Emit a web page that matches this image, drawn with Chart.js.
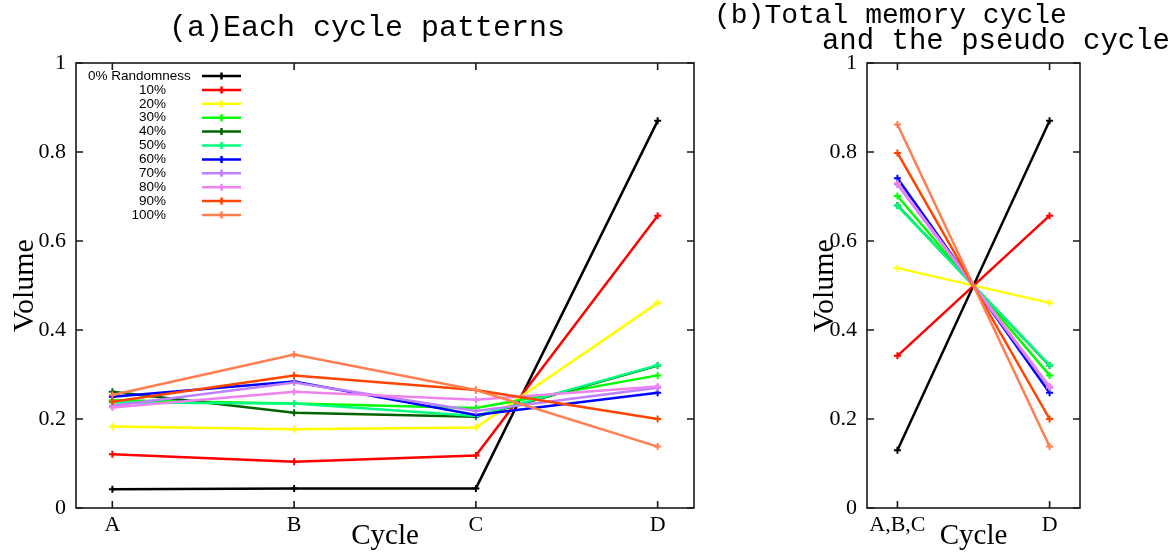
<!DOCTYPE html>
<html>
<head>
<meta charset="utf-8">
<script src="https://cdn.jsdelivr.net/npm/chart.js@4.4.1/dist/chart.umd.min.js"></script>
<style>
  body { margin: 0; background: #fff; }
  #wrap { position: relative; width: 1171px; height: 554px; overflow: hidden; }
  canvas { position: absolute; top: 0; }
  #cycA { left: 0; }
  #cycB { left: 700px; }
</style>
</head>
<body>
<div id="wrap">
  <canvas id="cycA" width="700" height="554"></canvas>
  <canvas id="cycB" width="471" height="554"></canvas>
</div>
<script>
// categories / tick labels
const cycles = ['A', 'B', 'C', 'D'];
const cyclesTotal = ['A,B,C', 'D'];
const yTicks = [0, 0.2, 0.4, 0.6, 0.8, 1];
const seriesNames = ['0% Randomness', '10%', '20%', '30%', '40%', '50%', '60%', '70%', '80%', '90%', '100%'];
const seriesColors = ['#000000', '#ff0000', '#ffff00', '#00ff00', '#006400', '#00ff7f',
                      '#0000ff', '#bf80ff', '#ee82ee', '#ff4500', '#ff7f50'];

// (a) volume of each cycle: A, B, C, D
const r0   = [0.042, 0.044, 0.044, 0.870];
const r10  = [0.121, 0.104, 0.118, 0.657];
const r20  = [0.183, 0.177, 0.181, 0.461];
const r30  = [0.242, 0.235, 0.225, 0.298];
const r40  = [0.261, 0.214, 0.205, 0.320];
const r50  = [0.237, 0.235, 0.207, 0.321];
const r60  = [0.250, 0.284, 0.209, 0.259];
const r70  = [0.230, 0.282, 0.218, 0.270];
const r80  = [0.226, 0.261, 0.243, 0.273];
const r90  = [0.239, 0.298, 0.265, 0.200];
const r100 = [0.254, 0.345, 0.265, 0.138];

// (b) total memory cycle (A,B,C) and pseudo cycle (D)
const t0   = [0.130, 0.870];
const t10  = [0.342, 0.657];
const t20  = [0.539, 0.461];
const t30  = [0.701, 0.298];
const t40  = [0.680, 0.320];
const t50  = [0.679, 0.321];
const t60  = [0.741, 0.259];
const t70  = [0.727, 0.270];
const t80  = [0.730, 0.273];
const t90  = [0.798, 0.200];
const t100 = [0.862, 0.138];

const eachCycle = [r0, r10, r20, r30, r40, r50, r60, r70, r80, r90, r100];
const totalCycle = [t0, t10, t20, t30, t40, t50, t60, t70, t80, t90, t100];

const serif = '"Liberation Serif", "Times New Roman", serif';
const mono = '"Liberation Mono", "Courier New", monospace';
const sans = '"Liberation Sans", Arial, sans-serif';

// box round the plot with gnuplot style inward ticks
const framePlugin = {
  id: 'frame',
  beforeDatasetsDraw(chart) {
    const {ctx, chartArea: a, scales: {x, y}} = chart;
    ctx.save();
    ctx.strokeStyle = '#1a1a1a';
    ctx.lineWidth = 1.6;
    ctx.strokeRect(a.left, a.top, a.right - a.left, a.bottom - a.top);
    ctx.beginPath();
    y.ticks.forEach((t) => {
      const py = y.getPixelForValue(t.value);
      ctx.moveTo(a.left, py); ctx.lineTo(a.left + 7, py);
      ctx.moveTo(a.right, py); ctx.lineTo(a.right - 7, py);
    });
    x.ticks.forEach((t) => {
      const px = x.getPixelForValue(t.value);
      ctx.moveTo(px, a.bottom); ctx.lineTo(px, a.bottom - 7);
      ctx.moveTo(px, a.top); ctx.lineTo(px, a.top + 7);
    });
    ctx.stroke();
    ctx.restore();
  }
};

// plot headings (monospace, like the original)
const headingPlugin = {
  id: 'heading',
  afterDraw(chart, args, opts) {
    const ctx = chart.ctx;
    ctx.save();
    ctx.fillStyle = '#000';
    ctx.textBaseline = 'middle';
    opts.lines.forEach((l) => {
      ctx.font = l.font;
      ctx.textAlign = l.align || 'left';
      ctx.fillText(l.text, l.x, l.y);
    });
    ctx.restore();
  }
};

// key in the top left corner of (a)
const keyPlugin = {
  id: 'key',
  afterDatasetsDraw(chart, args, opts) {
    if (!opts.show) return;
    const {ctx, chartArea: a} = chart;
    ctx.save();
    ctx.font = '13.5px ' + sans;
    ctx.textBaseline = 'middle';
    seriesNames.forEach((name, i) => {
      const py = a.top + 13 + i * 13.9;
      ctx.fillStyle = '#000';
      if (i === 0) {
        ctx.textAlign = 'left';
        ctx.fillText(name, a.left + 12, py);
      } else {
        ctx.textAlign = 'right';
        ctx.fillText(name, a.left + 90, py);
      }
      ctx.strokeStyle = seriesColors[i];
      ctx.lineWidth = 2.5;
      ctx.beginPath();
      ctx.moveTo(a.left + 126, py); ctx.lineTo(a.left + 165, py);
      const cx = a.left + 145.5;
      ctx.moveTo(cx - 3.5, py); ctx.lineTo(cx + 3.5, py);
      ctx.moveTo(cx, py - 3.5); ctx.lineTo(cx, py + 3.5);
      ctx.stroke();
    });
    ctx.restore();
  }
};

function makeDatasets(rows) {
  return rows.map((row, i) => ({
    label: seriesNames[i],
    data: row.map((v, k) => ({x: k, y: v})),
    borderColor: seriesColors[i],
    backgroundColor: seriesColors[i],
    borderWidth: 2.5,
    pointStyle: 'cross',
    pointRadius: 3.5,
    pointBorderWidth: 2,
    order: rows.length - i
  }));
}

function createCycleChart(canvasId, rows, labels, padLeft, yWidth, padRight, heading, showKey) {
  const ctx = document.getElementById(canvasId).getContext('2d');
  return new Chart(ctx, {
    type: 'line',
    data: {datasets: makeDatasets(rows)},
    options: {
      responsive: false,
      animation: false,
      events: [],
      layout: {padding: {top: 63, left: padLeft, right: padRight, bottom: 0}},
      plugins: {
        legend: {display: false},
        tooltip: {enabled: false},
        heading: heading,
        key: {show: showKey}
      },
      scales: {
        x: {
          type: 'linear',
          min: -0.2,
          max: labels.length - 1 + 0.2,
          afterBuildTicks: (s) => { s.ticks = labels.map((l, k) => ({value: k})); },
          afterFit: (s) => { s.height = 46; },
          grid: {display: false, drawTicks: false},
          border: {display: false},
          ticks: {
            autoSkip: false, maxRotation: 0, padding: 4, color: '#000',
            font: {family: serif, size: 22},
            callback: (v) => labels[v]
          },
          title: {display: true, text: 'Cycle', color: '#000', padding: {top: 0, bottom: 0},
                  font: {family: serif, size: 29}}
        },
        y: {
          min: 0,
          max: 1,
          afterBuildTicks: (s) => { s.ticks = yTicks.map((v) => ({value: v})); },
          afterFit: (s) => { s.width = yWidth; },
          grid: {display: false, drawTicks: false},
          border: {display: false},
          ticks: {padding: 10, color: '#000', font: {family: serif, size: 22},
                  callback: (v) => String(v)},
          title: {display: true, text: 'Volume', color: '#000', padding: {top: 7, bottom: 0},
                  font: {family: serif, size: 30}}
        }
      }
    },
    plugins: [framePlugin, keyPlugin, headingPlugin]
  });
}

const chartEach = createCycleChart('cycA', eachCycle, cycles, 0, 76, 4, {
  lines: [{text: '(a)Each cycle patterns', x: 367, y: 28, align: 'center', font: '30px ' + mono}]
}, true);

const chartTotal = createCycleChart('cycB', totalCycle, cyclesTotal, 100, 67, 91, {
  lines: [
    {text: '(b)Total memory cycle', x: 14, y: 16, font: '28px ' + mono},
    {text: 'and the pseudo cycle', x: 470, y: 41, align: 'right', font: '29px ' + mono}
  ]
}, false);
</script>
</body>
</html>
